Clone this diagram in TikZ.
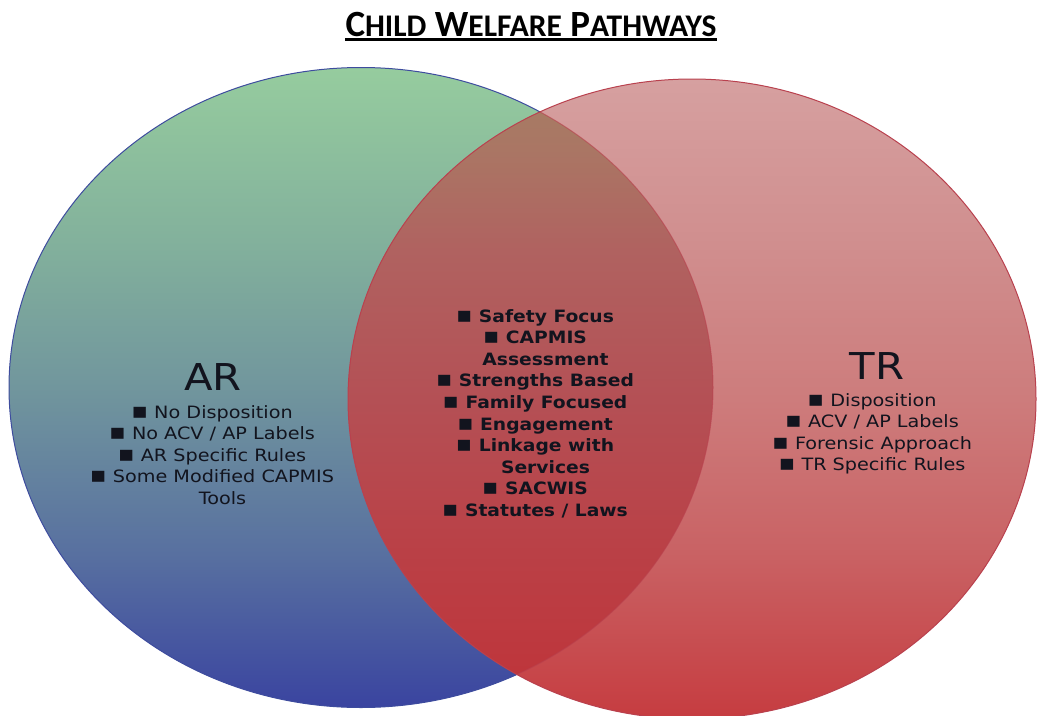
\documentclass[tikz,border=0pt]{standalone}
\usepackage{fontspec}
\newfontfamily\verd[FakeStretch=1.13]{DejaVu Sans}
\newfontfamily\verdb[FakeStretch=1.10]{DejaVu Sans Bold}
\newfontfamily\calib{Carlito}
\definecolor{txt}{RGB}{18,20,30}
\definecolor{gline}{RGB}{62,76,158}
\definecolor{rline}{RGB}{185,65,78}
\definecolor{la}{RGB}{58,68,160}
\definecolor{lb}{RGB}{88,112,160}
\definecolor{lc}{RGB}{113,150,157}
\definecolor{ld}{RGB}{130,176,156}
\definecolor{le}{RGB}{150,204,158}
\definecolor{ra}{RGB}{198,60,64}
\definecolor{rb}{RGB}{201,98,100}
\definecolor{rc}{RGB}{205,124,124}
\definecolor{rd}{RGB}{208,142,142}
\definecolor{re}{RGB}{214,160,160}
\definecolor{oa}{RGB}{192,50,56}
\definecolor{ob}{RGB}{186,64,70}
\definecolor{oc}{RGB}{180,80,85}
\definecolor{od}{RGB}{176,98,96}
\definecolor{oe}{RGB}{170,118,100}
\definecolor{of}{RGB}{165,126,100}
\pgfdeclareverticalshading{leftsh}{100bp}{%
  color(0bp)=(la); color(25bp)=(la); color(37bp)=(lb); color(50bp)=(lc);
  color(61bp)=(ld); color(75bp)=(le); color(100bp)=(le)}
\pgfdeclareverticalshading{rightsh}{100bp}{%
  color(0bp)=(ra); color(25bp)=(ra); color(38bp)=(rb); color(50bp)=(rc);
  color(62bp)=(rd); color(75bp)=(re); color(100bp)=(re)}
\pgfdeclareverticalshading{oversh}{100bp}{%
  color(0bp)=(oa); color(25bp)=(oa); color(38bp)=(ob); color(50bp)=(oc);
  color(61.6bp)=(od); color(69.5bp)=(oe); color(75bp)=(of); color(100bp)=(of)}
\tikzset{
  lst/.style={align=center, text=txt, font=\verd\fontsize{17}{21.6}\selectfont, inner sep=0pt},
  lstb/.style={lst, font=\verdb\fontsize{17}{21.6}\selectfont},
  big/.style={text=txt, font=\verd\fontsize{37}{40}\selectfont, inner sep=0pt}
}
\newcommand\bx{{\fontsize{22}{0}\selectfont\char"25AA}\ }
\begin{document}
\begin{tikzpicture}[x=1pt,y=-1pt]
\useasboundingbox (0,0) rectangle (1039,715);
% left ellipse
\shade[shading=leftsh] (361,387.5) ellipse [x radius=352, y radius=320];
\draw[gline, line width=1pt] (361,387.5) ellipse [x radius=352, y radius=320];
% right ellipse
\shade[shading=rightsh] (692,399) ellipse [x radius=344, y radius=320];
% overlap
\begin{scope}
\clip (361,387.5) ellipse [x radius=352, y radius=320];
\shade[shading=oversh] (692,399) ellipse [x radius=344, y radius=320];
\end{scope}
\begin{scope}
\clip (692,399) ellipse [x radius=344, y radius=320];
\draw[rline, line width=1pt, opacity=0.6] (361,387.5) ellipse [x radius=352, y radius=320];
\end{scope}
\draw[rline, line width=1pt] (692,399) ellipse [x radius=344, y radius=320];
% title
\node[inner sep=0pt, anchor=base] (title) at (531,36) {\calib\bfseries\fontsize{37}{40}\selectfont C{\fontsize{31.5}{34}\selectfont HILD} W{\fontsize{31.5}{34}\selectfont ELFARE} P{\fontsize{31.5}{34}\selectfont ATHWAYS}};
\draw[line width=3.5pt] (345,39.5) -- (717,39.5);
% AR
\node[big] (ar) at (213,377) {AR};
\node[lst, anchor=north] (arl) at (212,405) {\bx No Disposition\\ \bx No ACV / AP Labels\\ \bx AR Specific Rules\\ \bx Some Modified CAPMIS\\ \hspace*{21pt}Tools};
% centre
\node[lstb, anchor=north] (mid) at (535,309) {\bx Safety Focus\\ \bx CAPMIS\\ \hspace*{21pt}Assessment\\ \bx Strengths Based\\ \bx Family Focused\\ \bx Engagement\\ \bx Linkage with\\ \hspace*{21pt}Services\\ \bx SACWIS\\ \bx Statutes / Laws};
% TR
\node[big] (tr) at (877,366) {TR};
\node[lst, anchor=north] (trl) at (872,393) {\bx Disposition\\ \bx ACV / AP Labels\\ \bx Forensic Approach\\ \bx TR Specific Rules};
\end{tikzpicture}
\end{document}
